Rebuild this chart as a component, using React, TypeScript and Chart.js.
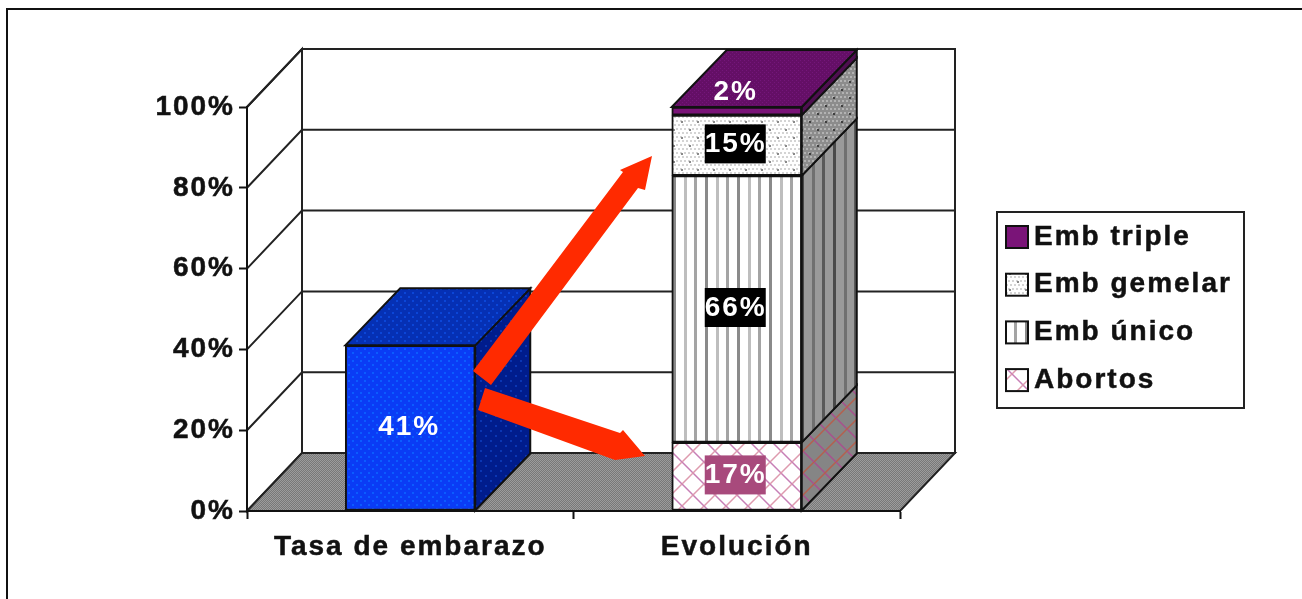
import React, { useEffect, useRef } from "react";
import { Chart, registerables } from "chart.js";

Chart.register(...registerables);

const categories = ["Tasa de embarazo", "Evolución"];
const seriesNames = ["Tasa", "Abortos", "Emb único", "Emb gemelar", "Emb triple"];
const tasaValues = [41, null];
const abortosValues = [null, 17];
const unicoValues = [null, 66];
const gemelarValues = [null, 15];
const tripleValues = [null, 2];
const legendNames = ["Emb triple", "Emb gemelar", "Emb único", "Abortos"];
const yTickLabels = ["0%", "20%", "40%", "60%", "80%", "100%"];

const FONT_FAMILY = '"Liberation Sans", Arial, sans-serif';
const FONT_SIZE = 28;
const TRACKING = "2px";
const DEPTH_X = 55;
const DEPTH_Y = -58;
const BAR_DEPTH_X = 55;
const BAR_DEPTH_Y = -57;
const INK = "#111111";

type Painter = (g: CanvasRenderingContext2D, w: number, h: number) => void;

function tile(w: number, h: number, paint: Painter): CanvasPattern {
  const c = document.createElement("canvas");
  c.width = w;
  c.height = h;
  const g = c.getContext("2d") as CanvasRenderingContext2D;
  paint(g, w, h);
  return g.createPattern(c, "repeat") as CanvasPattern;
}

function spotted(base: string, spot: string, step: number, size: number): CanvasPattern {
  return tile(step, step, (g, w, h) => {
    g.fillStyle = base;
    g.fillRect(0, 0, w, h);
    g.fillStyle = spot;
    g.fillRect(0, 0, size, size);
    g.fillRect(w / 2, h / 2, size, size);
  });
}

function gemelarFill(base: string, light: string, dark: string): CanvasPattern {
  return tile(16, 16, (g, w, h) => {
    g.fillStyle = base;
    g.fillRect(0, 0, w, h);
    g.fillStyle = light;
    for (let y = 0; y < 16; y += 4) {
      for (let x = y % 8 === 0 ? 0 : 2; x < 16; x += 4) g.fillRect(x, y, 2, 2);
    }
    g.fillStyle = dark;
    g.fillRect(1, 1, 2, 2);
    g.fillRect(9, 9, 2, 2);
  });
}

function stripes(base: string, first: string, second: string, third: string): CanvasPattern {
  return tile(32, 4, (g, w, h) => {
    g.fillStyle = base;
    g.fillRect(0, 0, w, h);
    g.fillStyle = first;
    g.fillRect(1, 0, 3, h);
    g.fillStyle = second;
    g.fillRect(12, 0, 3, h);
    g.fillStyle = third;
    g.fillRect(22, 0, 3, h);
  });
}

function hatch(base: string, lineA: string, lineB: string): CanvasPattern {
  return tile(22, 22, (g, w, h) => {
    g.fillStyle = base;
    g.fillRect(0, 0, w, h);
    g.lineWidth = 1.5;
    g.strokeStyle = lineA;
    g.beginPath();
    g.moveTo(-1, -1);
    g.lineTo(w + 1, h + 1);
    g.stroke();
    g.strokeStyle = lineB;
    g.beginPath();
    g.moveTo(w + 1, -1);
    g.lineTo(-1, h + 1);
    g.stroke();
  });
}

function polygon(ctx: CanvasRenderingContext2D, pts: number[][], fill: any, stroke: string | null, lw = 2) {
  ctx.beginPath();
  pts.forEach(([x, y], i) => (i ? ctx.lineTo(x, y) : ctx.moveTo(x, y)));
  ctx.closePath();
  if (fill) {
    ctx.fillStyle = fill;
    ctx.fill();
  }
  if (stroke) {
    ctx.strokeStyle = stroke;
    ctx.lineWidth = lw;
    ctx.stroke();
  }
}

export default function App() {
  const ref = useRef<HTMLCanvasElement | null>(null);

  useEffect(() => {
    const canvas = ref.current as HTMLCanvasElement;

    const frontFills = [
      spotted("#0A3CF5", "#0B5CFF", 8, 2),
      hatch("#FFFFFF", "#C77FB6", "#DE9AAE"),
      stripes("#FFFFFF", "#8A8A8A", "#BEBEBE", "#A4A4A4"),
      gemelarFill("#FFFFFF", "#D4D4D4", "#8A8A8A"),
      "#7A1478",
    ];
    const sideFills = [
      spotted("#001C8C", "#0A36B4", 10, 2),
      hatch("#858585", "#A8508E", "#B4604E"),
      stripes("#9A9A9A", "#4A4A4A", "#707070", "#5A5A5A"),
      gemelarFill("#8C8C8C", "#B2B2B2", "#3E3E3E"),
      "#4E0E50",
    ];
    const topFills = [spotted("#0530B4", "#0B46D8", 8, 2), null, null, null, spotted("#640F66", "#74167A", 4, 1)];
    const labelBoxes = [null, "#A84A7C", "#000000", "#000000", null];
    const floorFill = tile(2, 2, (g) => {
      g.fillStyle = "#787878";
      g.fillRect(0, 0, 2, 2);
      g.fillStyle = "#9C9C9C";
      g.fillRect(0, 0, 1, 1);
      g.fillRect(1, 1, 1, 1);
    });

    const setTracking = (c: Chart) => {
      (c.ctx as any).letterSpacing = TRACKING;
    };

    const scenery = {
      id: "scenery",
      beforeUpdate: setTracking,
      beforeLayout: setTracking,
      beforeDraw(c: Chart) {
        setTracking(c);
        const { ctx, chartArea: a, scales } = c;
        ctx.save();
        // page frame
        ctx.strokeStyle = "#111111";
        ctx.lineWidth = 2;
        ctx.beginPath();
        ctx.moveTo(7, 599);
        ctx.lineTo(7, 9);
        ctx.lineTo(1302, 9);
        ctx.stroke();

        const pL = a.left, pR = a.right, pT = a.top, pB = a.bottom;
        // back wall, side wall and floor of the box
        polygon(ctx, [[pL + DEPTH_X, pT + DEPTH_Y], [pR + DEPTH_X, pT + DEPTH_Y], [pR + DEPTH_X, pB + DEPTH_Y], [pL + DEPTH_X, pB + DEPTH_Y]], "#FFFFFF", "#222222");
        polygon(ctx, [[pL, pB], [pL + DEPTH_X, pB + DEPTH_Y], [pL + DEPTH_X, pT + DEPTH_Y], [pL, pT]], "#FFFFFF", "#222222");
        polygon(ctx, [[pL, pB], [pL + DEPTH_X, pB + DEPTH_Y], [pR + DEPTH_X, pB + DEPTH_Y], [pR, pB]], floorFill, "#222222");

        // gridlines bend from the side wall onto the back wall
        ctx.strokeStyle = "#222222";
        ctx.lineWidth = 2;
        scales.y.ticks.forEach((t: any) => {
          if (t.value === 0) return;
          const y = scales.y.getPixelForValue(t.value);
          ctx.beginPath();
          ctx.moveTo(pL, y);
          ctx.lineTo(pL + DEPTH_X, y + DEPTH_Y);
          ctx.lineTo(pR + DEPTH_X, y + DEPTH_Y);
          ctx.stroke();
        });
        ctx.restore();
      },
      beforeDatasetsDraw(c: Chart) {
        const ctx = c.ctx;
        ctx.save();
        c.data.datasets.forEach((ds: any, i: number) => {
          c.getDatasetMeta(i).data.forEach((bar: any, j: number) => {
            if (ds.data[j] == null) return;
            const r = bar.x + bar.width / 2;
            const l = bar.x - bar.width / 2;
            polygon(ctx, [[r, bar.y], [r + BAR_DEPTH_X, bar.y + BAR_DEPTH_Y], [r + BAR_DEPTH_X, bar.base + BAR_DEPTH_Y], [r, bar.base]], sideFills[i], INK);
            const top = topFills[i];
            if (top) {
              polygon(ctx, [[l, bar.y], [l + BAR_DEPTH_X, bar.y + BAR_DEPTH_Y], [r + BAR_DEPTH_X, bar.y + BAR_DEPTH_Y], [r, bar.y]], top, INK);
            }
          });
        });
        ctx.restore();
      },
      afterDatasetsDraw(c: Chart) {
        const ctx = c.ctx;
        ctx.save();
        // value labels
        ctx.font = `bold ${FONT_SIZE}px ${FONT_FAMILY}`;
        ctx.textAlign = "center";
        ctx.textBaseline = "middle";
        c.data.datasets.forEach((ds: any, i: number) => {
          c.getDatasetMeta(i).data.forEach((bar: any, j: number) => {
            const v = ds.data[j];
            if (v == null) return;
            const box = labelBoxes[i];
            const cy = (bar.y + bar.base) / 2 + (v < 5 ? -19 : -1);
            if (box) {
              ctx.fillStyle = box;
              ctx.fillRect(bar.x - 32, cy - 20, 61, 39);
            }
            ctx.fillStyle = "#FFFFFF";
            ctx.fillText(`${v}%`, bar.x - 1, cy);
          });
        });

        // arrows from the pregnancy rate to its outcomes
        const red = "#FF2A00";
        polygon(ctx, [[473, 371], [623, 172], [620, 170], [652, 156], [645, 190], [638, 188], [491, 385]], red, null);
        polygon(ctx, [[485, 388], [620, 433], [623, 430], [645, 456], [615, 460], [478, 410]], red, null);

        // legend
        ctx.fillStyle = "#FFFFFF";
        ctx.strokeStyle = "#222222";
        ctx.lineWidth = 2;
        ctx.fillRect(997, 212, 247, 196);
        ctx.strokeRect(997, 212, 247, 196);
        ctx.textAlign = "left";
        legendNames.forEach((name, k) => {
          const idx = seriesNames.indexOf(name);
          const y = 237 + k * 47.7;
          ctx.fillStyle = frontFills[idx] as any;
          ctx.fillRect(1006, y - 11, 22, 22);
          ctx.strokeStyle = "#111111";
          ctx.lineWidth = 2;
          ctx.strokeRect(1006, y - 11, 22, 22);
          ctx.fillStyle = "#111111";
          ctx.strokeStyle = "#111111";
          ctx.lineWidth = 0.5;
          ctx.fillText(name, 1034, y);
          ctx.strokeText(name, 1034, y);
        });
        ctx.restore();
      },
    };

    const seriesValues = [tasaValues, abortosValues, unicoValues, gemelarValues, tripleValues];
    const tickFont = { family: FONT_FAMILY, size: FONT_SIZE, weight: "bold" };
    const chart = new Chart(canvas, {
      type: "bar",
      data: {
        labels: categories,
        datasets: seriesNames.map((label, i) => ({
          label,
          data: seriesValues[i],
          backgroundColor: frontFills[i],
          borderColor: INK,
          borderWidth: 2,
          borderSkipped: false,
          barThickness: 130,
        })),
      } as any,
      options: {
        responsive: false,
        animation: false,
        events: [],
        layout: { padding: { left: 0, top: 107, right: 402, bottom: 0 } },
        plugins: { legend: { display: false }, tooltip: { enabled: false }, title: { display: false } },
        scales: {
          x: {
            stacked: true,
            afterFit: (s: any) => {
              s.height = 88;
            },
            border: { color: "#111111", width: 2 },
            grid: { drawOnChartArea: false, color: "#111111", tickLength: 8, tickWidth: 2 },
            ticks: {
              color: "#111111",
              padding: 11,
              textStrokeColor: "#111111",
              textStrokeWidth: 0.5,
              font: tickFont,
              maxRotation: 0,
            },
          },
          y: {
            stacked: true,
            min: 0,
            max: 100,
            afterFit: (s: any) => {
              s.width = 247;
            },
            border: { color: "#111111", width: 2 },
            grid: { drawOnChartArea: false, color: "#111111", tickLength: 8, tickWidth: 2 },
            ticks: {
              stepSize: 20,
              color: "#111111",
              padding: 4,
              textStrokeColor: "#111111",
              textStrokeWidth: 0.5,
              font: tickFont,
              callback: (_v: any, i: number) => yTickLabels[i],
            },
          },
        },
      },
      plugins: [scenery as any],
    });
    return () => chart.destroy();
  }, []);

  return (
    <div style={{ position: "fixed", left: 0, top: 0 }}>
      <canvas ref={ref} width={1302} height={599} style={{ display: "block" }} />
    </div>
  );
}
